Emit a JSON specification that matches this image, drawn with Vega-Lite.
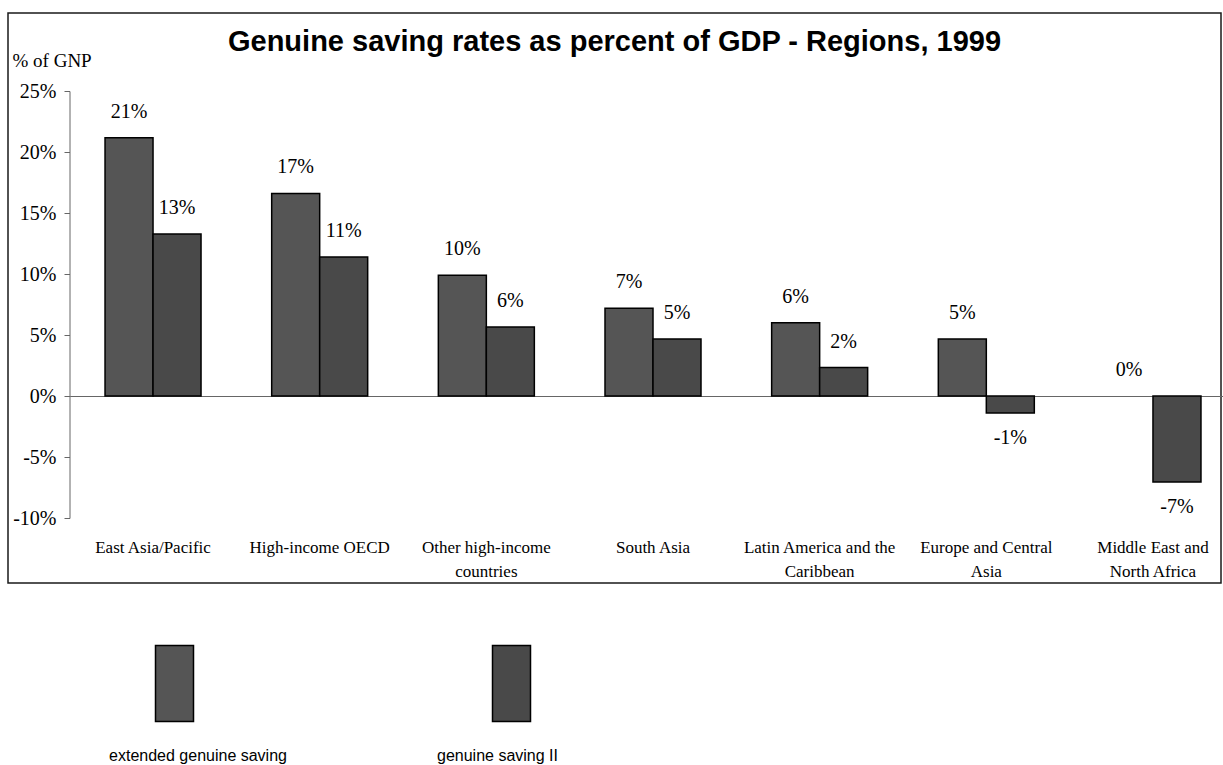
{
  "$schema": "https://vega.github.io/schema/vega-lite/v6.json",
  "width": 1213,
  "height": 570,
  "autosize": "none",
  "padding": {"left": 8, "top": 13, "right": 2, "bottom": 182},
  "background": "white",
  "title": {
    "text": "Genuine saving rates as percent of GDP - Regions, 1999",
    "anchor": "middle",
    "frame": "group",
    "font": "Liberation Sans",
    "fontSize": 29,
    "fontWeight": "bold",
    "color": "#000000",
    "baseline": "alphabetic",
    "offset": -40,
    "dy": 27
  },
  "data": {
    "values": [
      {"region": "East Asia/Pacific", "series": "extended genuine saving", "value": 0.2116},
      {"region": "East Asia/Pacific", "series": "genuine saving II", "value": 0.1327},
      {"region": "High-income OECD", "series": "extended genuine saving", "value": 0.166},
      {"region": "High-income OECD", "series": "genuine saving II", "value": 0.114},
      {"region": "Other high-income countries", "series": "extended genuine saving", "value": 0.099},
      {"region": "Other high-income countries", "series": "genuine saving II", "value": 0.0566},
      {"region": "South Asia", "series": "extended genuine saving", "value": 0.072},
      {"region": "South Asia", "series": "genuine saving II", "value": 0.0468},
      {"region": "Latin America and the Caribbean", "series": "extended genuine saving", "value": 0.06},
      {"region": "Latin America and the Caribbean", "series": "genuine saving II", "value": 0.0233},
      {"region": "Europe and Central Asia", "series": "extended genuine saving", "value": 0.0468},
      {"region": "Europe and Central Asia", "series": "genuine saving II", "value": -0.0139},
      {"region": "Middle East and North Africa", "series": "extended genuine saving", "value": 0},
      {"region": "Middle East and North Africa", "series": "genuine saving II", "value": -0.0705}
    ]
  },
  "encoding": {
    "x": {
      "field": "region",
      "type": "nominal",
      "sort": null,
      "scale": {"range": [61.7, 1228.3], "paddingInner": 0.424, "paddingOuter": 0.212},
      "axis": {
        "title": null,
        "orient": "bottom",
        "offset": -187,
        "domain": true,
        "domainColor": "#666666",
        "domainWidth": 1,
        "ticks": false,
        "tickSize": 0,
        "labelAngle": 0,
        "labelAlign": "center",
        "labelBaseline": "top",
        "labelPadding": 143,
        "labelLineHeight": 24,
        "labelFont": "Liberation Serif",
        "labelFontSize": 17,
        "labelColor": "#000000",
        "labelOverlap": false,
        "labelExpr": "datum.label == 'Other high-income countries' ? ['Other high-income', 'countries'] : datum.label == 'Latin America and the Caribbean' ? ['Latin America and the', 'Caribbean'] : datum.label == 'Europe and Central Asia' ? ['Europe and Central', 'Asia'] : datum.label == 'Middle East and North Africa' ? ['Middle East and', 'North Africa'] : datum.label"
      }
    },
    "xOffset": {
      "field": "series",
      "type": "nominal",
      "sort": ["extended genuine saving", "genuine saving II"],
      "scale": {"paddingInner": 0, "paddingOuter": 0}
    },
    "y": {
      "field": "value",
      "type": "quantitative",
      "scale": {"domain": [-0.1, 0.25], "nice": false, "zero": false, "range": [505, 78]},
      "axis": {
        "title": "% of GNP",
        "titleAngle": 0,
        "titleX": -57.5,
        "titleY": 47,
        "titleAlign": "left",
        "titleBaseline": "middle",
        "titleFont": "Liberation Serif",
        "titleFontSize": 19,
        "titleFontWeight": "normal",
        "titleColor": "#000000",
        "offset": -61.5,
        "values": [-0.1, -0.05, 0, 0.05, 0.1, 0.15, 0.2, 0.25],
        "format": ".0%",
        "grid": false,
        "domainColor": "#666666",
        "domainWidth": 1,
        "tickColor": "#666666",
        "tickSize": 5.5,
        "labelPadding": 8,
        "labelFont": "Liberation Serif",
        "labelFontSize": 20,
        "labelColor": "#000000"
      }
    }
  },
  "layer": [
    {
      "mark": {"type": "bar", "stroke": "#000000"},
      "encoding": {
        "fill": {
          "field": "series",
          "type": "nominal",
          "scale": {"domain": ["extended genuine saving", "genuine saving II"], "range": ["#555555", "#494949"]},
          "legend": {
            "orient": "none",
            "legendX": 127.5,
            "legendY": 631.5,
            "direction": "horizontal",
            "title": null,
            "padding": 0,
            "symbolType": "M-0.5,-1H0.5V1H-0.5Z",
            "symbolSize": 5776,
            "symbolStrokeColor": "#000000",
            "symbolStrokeWidth": 1.5,
            "symbolOpacity": 1,
            "labelFont": "Liberation Sans",
            "labelFontSize": 16,
            "labelColor": "#000000",
            "labelAlign": "center",
            "labelOffset": 0,
            "labelLimit": 400,
            "columnPadding": 149,
            "encode": {
              "symbols": {"update": {
                "fill": {"signal": "datum.value === 'extended genuine saving' ? '#6a6a6a' : '#494949'"},
                "stroke": {"value": "#000000"},
                "strokeWidth": {"value": 1.5}
              }},
              "labels": {"update": {
                "dx": {"signal": "datum.value === 'genuine saving II' ? -53 : -15.5"},
                "dy": {"value": 72}
              }}
            }
          }
        },
        "strokeWidth": {"condition": {"test": "datum.value === 0", "value": 0}, "value": 1.5}
      }
    },
    {
      "transform": [{"filter": "datum.value >= 0"}],
      "mark": {"type": "text", "dy": -26, "baseline": "middle", "align": "center", "font": "Liberation Serif", "fontSize": 20, "color": "#000000"},
      "encoding": {"text": {"field": "value", "type": "quantitative", "format": ".0%"}}
    },
    {
      "transform": [{"filter": "datum.value < 0"}],
      "mark": {"type": "text", "dy": 25, "baseline": "middle", "align": "center", "font": "Liberation Serif", "fontSize": 20, "color": "#000000"},
      "encoding": {"text": {"field": "value", "type": "quantitative", "format": ".0%"}}
    }
  ],
  "config": {
    "locale": {"number": {"decimal": ".", "thousands": ",", "grouping": [3], "currency": ["$", ""], "minus": "-"}},
    "view": {"stroke": "#1a1a1a", "strokeWidth": 1.5}
  }
}
